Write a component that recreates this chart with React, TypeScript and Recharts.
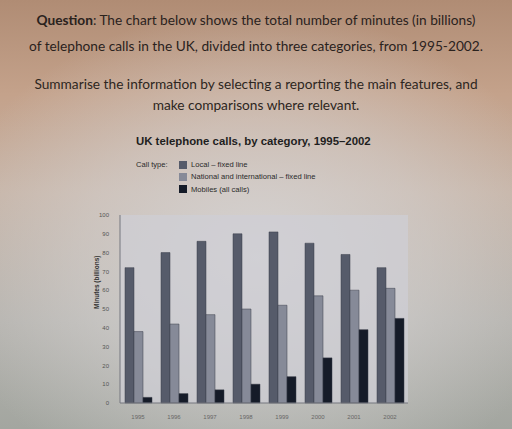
import React from 'react';
import { BarChart, Bar, XAxis, YAxis, CartesianGrid } from 'recharts';

const years = ['1995', '1996', '1997', '1998', '1999', '2000', '2001', '2002'];
const local = [72, 80, 86, 90, 91, 85, 79, 72];
const national = [38, 42, 47, 50, 52, 57, 60, 61];
const mobiles = [3, 5, 7, 10, 14, 24, 39, 45];
const yTicks = [0, 10, 20, 30, 40, 50, 60, 70, 80, 90, 100];

const seriesInfo = [
  { key: 'local', name: 'Local – fixed line', color: '#565b6a' },
  { key: 'national', name: 'National and international – fixed line', color: '#868a98' },
  { key: 'mobiles', name: 'Mobiles (all calls)', color: '#151b28' },
];

const data = years.map((y, i) => ({ year: y, local: local[i], national: national[i], mobiles: mobiles[i] }));

const chartFont = '"Liberation Sans", Arial, sans-serif';

const LegendBox = () => (
  <div style={{ fontFamily: chartFont, fontSize: 7.6, color: '#2a2a2a', position: 'relative', width: 260, height: 40 }}>
    <div style={{ position: 'absolute', left: 0, top: 0 }}>Call type:</div>
    {seriesInfo.map((s, i) => (
      <div key={s.key} style={{ position: 'absolute', left: 43, top: i * 12.3, display: 'flex', alignItems: 'center' }}>
        <span style={{ width: 8, height: 8, background: s.color, display: 'inline-block', marginRight: 4 }} />
        <span>{s.name}</span>
      </div>
    ))}
  </div>
);

const App = () => {
  return (
    <div
      style={{
        position: 'absolute',
        left: 0,
        top: 0,
        width: 512,
        height: 429,
        overflow: 'hidden',
        background:
          'radial-gradient(ellipse 62% 58% at 50% 60%, rgba(214,212,212,0.95) 0%, rgba(214,212,212,0.5) 55%, rgba(214,212,212,0) 100%), linear-gradient(to bottom, #b08c74 0%, #c4a28b 22%, #c6b3a5 45%, #b4b2ad 75%, #a3a6a0 100%)',
      }}
    >
      <div style={{ position: 'absolute', top: 7, left: 0, width: 512, textAlign: 'center', fontFamily: 'Lato, sans-serif', fontSize: 13.7, color: '#2a221d', lineHeight: '26px' }}>
        <div><b>Question</b>: The chart below shows the total number of minutes (in billions)</div>
        <div>of telephone calls in the UK, divided into three categories, from 1995-2002.</div>
      </div>
      <div style={{ position: 'absolute', top: 73, left: 0, width: 512, textAlign: 'center', fontFamily: 'Lato, sans-serif', fontSize: 13.7, color: '#2d2621', lineHeight: '21px' }}>
        <div>Summarise the information by selecting a reporting the main features, and</div>
        <div>make comparisons where relevant.</div>
      </div>
      <div style={{ position: 'absolute', top: 135, left: 136, fontFamily: chartFont, fontSize: 11.4, fontWeight: 'bold', color: '#1e1e1e' }}>
        UK telephone calls, by category, 1995–2002
      </div>
      <div style={{ position: 'absolute', left: 136, top: 160 }}>
        <LegendBox />
      </div>
      <div style={{ position: 'absolute', left: 60, top: 200 }}>
        <BarChart
          width={380}
          height={225}
          data={data}
          margin={{ top: 15, right: 32, bottom: 2, left: 30 }}
          barCategoryGap="14%"
          barGap={0}
        >
          <CartesianGrid horizontal={false} vertical={false} fill="rgba(206,207,214,0.7)" />
          <XAxis
            dataKey="year"
            height={20}
            tickLine={false}
            tickMargin={6}
            axisLine={{ stroke: '#75777f' }}
            tick={{ fontSize: 6, fill: '#666', fontFamily: chartFont }}
          />
          <XAxis xAxisId="top" orientation="top" dataKey="year" height={0} tick={false} tickLine={false} axisLine={{ stroke: '#75777f' }} />
          <YAxis
            domain={[0, 100]}
            ticks={yTicks}
            width={30}
            tickLine={false}
            tickMargin={5}
            axisLine={{ stroke: '#75777f' }}
            tick={{ fontSize: 6, fill: '#555', fontFamily: chartFont }}
            label={{ value: 'Minutes (billions)', angle: -90, position: 'insideLeft', offset: 7, style: { fontSize: 6.5, fontWeight: 'bold', fill: '#333', fontFamily: chartFont } }}
          />
          <YAxis yAxisId="right" orientation="right" domain={[0, 100]} width={0} tick={false} tickLine={false} axisLine={{ stroke: '#75777f' }} />
          {seriesInfo.map((s) => (
            <Bar key={s.key} dataKey={s.key} name={s.name} fill={s.color} stroke="#3a3e4a" strokeWidth={0.5} barSize={9} isAnimationActive={false} />
          ))}
        </BarChart>
      </div>
    </div>
  );
};

export default App;
